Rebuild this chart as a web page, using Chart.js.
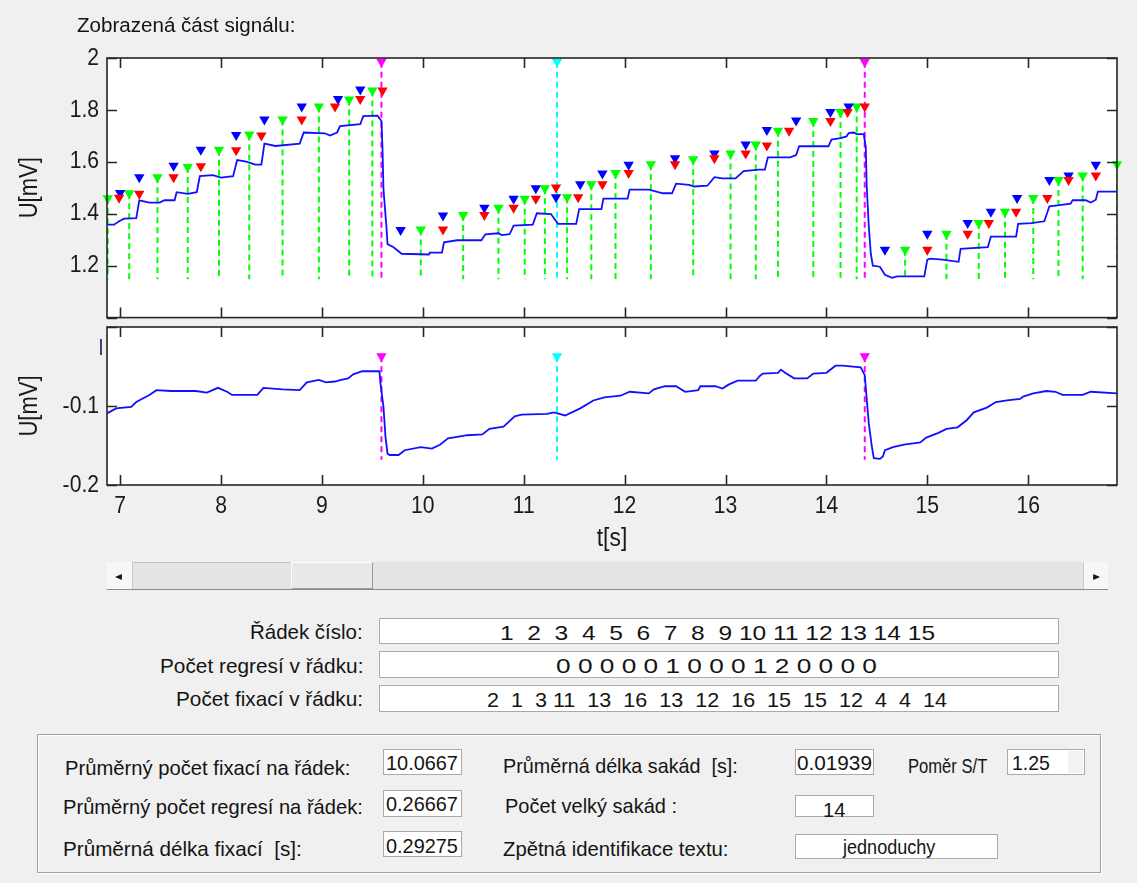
<!DOCTYPE html>
<html>
<head>
<meta charset="utf-8">
<script src="https://cdn.jsdelivr.net/npm/chart.js@4.4.1/dist/chart.umd.min.js"></script>
<style>
body { margin: 0; width: 1137px; height: 883px; background: #f0f0f0; position: relative; overflow: hidden; }
canvas { position: absolute; left: 0; }
#topChart { top: 0; }
#botChart { top: 300px; }
.t { position: absolute; white-space: pre; color: #141414; line-height: 1; transform-origin: left center;
     font-family: "Liberation Sans", Arial, sans-serif; }
.box { position: absolute; background: #fff; border: 1px solid #a9a9a9; box-sizing: border-box; }
.etch { position: absolute; border: 1px solid #a0a0a0; box-shadow: 1px 1px 0 #fff, inset 1px 1px 0 #fff; box-sizing: border-box; }
.sb { position: absolute; box-sizing: border-box; }
</style>
</head>
<body>
<canvas id="botChart" width="1137" height="260"></canvas>
<canvas id="topChart" width="1137" height="340"></canvas>
<div id="ui"></div>
<script>
// time axis
const xMin = 6.87;
const xMax = 16.88;
const xTicks = [7, 8, 9, 10, 11, 12, 13, 14, 15, 16];
const topYTicks = [1, 1.2, 1.4, 1.6, 1.8, 2];
const topYLabels = ['', '1.2', '1.4', '1.6', '1.8', '2'];
const botYTicks = [-0.2, -0.1, 0];
const botYLabels = ['-0.2', '-0.1', ''];

// upper signal (horizontal channel)
const topT = [6.877, 6.94, 6.99, 7.04, 7.16, 7.19, 7.29, 7.39, 7.44, 7.54, 7.56, 7.67, 7.76, 7.79, 7.92, 8.00, 8.12, 8.16, 8.25, 8.34,
  8.40, 8.43, 8.54, 8.78, 8.82, 9.03, 9.08, 9.15, 9.18, 9.38, 9.41, 9.55, 9.59, 9.60, 9.61, 9.64, 9.65, 9.71, 9.79, 10.06,
  10.07, 10.19, 10.21, 10.34, 10.58, 10.62, 10.75, 10.78, 10.86, 10.90, 11.09, 11.13, 11.27, 11.34, 11.52, 11.55, 11.77, 11.79, 12.03, 12.05,
  12.24, 12.38, 12.47, 12.51, 12.64, 12.69, 12.82, 12.89, 12.97, 13.10, 13.18, 13.33, 13.39, 13.42, 13.64, 13.70, 13.73, 14.02, 14.05, 14.14,
  14.20, 14.22, 14.27, 14.30, 14.37, 14.39, 14.40, 14.42, 14.44, 14.46, 14.53, 14.58, 14.65, 14.70, 14.97, 15.00, 15.03, 15.15, 15.31, 15.33,
  15.60, 15.63, 15.88, 15.90, 16.03, 16.16, 16.21, 16.31, 16.42, 16.44, 16.57, 16.62, 16.67, 16.69, 16.88];
const topU = [1.358, 1.358, 1.371, 1.381, 1.383, 1.452, 1.443, 1.443, 1.452, 1.452, 1.483, 1.477, 1.483, 1.545, 1.549, 1.539, 1.545, 1.607, 1.601, 1.589,
  1.589, 1.670, 1.661, 1.670, 1.713, 1.710, 1.701, 1.713, 1.738, 1.745, 1.776, 1.778, 1.757, 1.657, 1.495, 1.346, 1.283, 1.271, 1.246, 1.243,
  1.250, 1.250, 1.290, 1.298, 1.298, 1.321, 1.325, 1.318, 1.321, 1.354, 1.358, 1.402, 1.399, 1.361, 1.361, 1.418, 1.418, 1.458, 1.458, 1.493,
  1.493, 1.479, 1.479, 1.516, 1.511, 1.505, 1.508, 1.541, 1.536, 1.536, 1.564, 1.570, 1.570, 1.617, 1.617, 1.626, 1.660, 1.660, 1.686, 1.691,
  1.698, 1.711, 1.713, 1.707, 1.707, 1.657, 1.501, 1.352, 1.246, 1.200, 1.196, 1.165, 1.153, 1.159, 1.159, 1.223, 1.227, 1.223, 1.215, 1.265,
  1.271, 1.312, 1.312, 1.361, 1.364, 1.371, 1.429, 1.433, 1.439, 1.452, 1.452, 1.443, 1.454, 1.485, 1.485];

// lower signal (vertical channel)
const botT = [6.875, 6.96, 7.11, 7.16, 7.29, 7.36, 7.50, 7.75, 7.86, 7.97, 8.06, 8.11, 8.36, 8.42, 8.61, 8.78, 8.85, 8.97, 9.04, 9.13,
  9.19, 9.26, 9.31, 9.40, 9.57, 9.58, 9.61, 9.63, 9.65, 9.67, 9.76, 9.82, 9.98, 10.09, 10.17, 10.25, 10.34, 10.44, 10.59, 10.66,
  10.80, 10.91, 10.98, 11.23, 11.30, 11.41, 11.56, 11.69, 11.80, 11.96, 12.05, 12.24, 12.29, 12.40, 12.51, 12.60, 12.73, 12.75, 12.90, 12.97,
  13.03, 13.12, 13.30, 13.34, 13.37, 13.52, 13.55, 13.59, 13.68, 13.81, 13.87, 14.00, 14.09, 14.16, 14.34, 14.38, 14.40, 14.42, 14.45, 14.47,
  14.53, 14.56, 14.58, 14.66, 14.77, 14.93, 14.99, 15.11, 15.19, 15.30, 15.39, 15.46, 15.59, 15.68, 15.79, 15.92, 15.95, 16.05, 16.18, 16.27,
  16.34, 16.54, 16.62, 16.88];
const botU = [-0.109, -0.103, -0.101, -0.095, -0.086, -0.080, -0.081, -0.081, -0.083, -0.077, -0.082, -0.086, -0.086, -0.077, -0.079, -0.080, -0.070, -0.067, -0.070, -0.069,
  -0.067, -0.065, -0.060, -0.056, -0.056, -0.071, -0.101, -0.139, -0.160, -0.162, -0.162, -0.156, -0.152, -0.154, -0.149, -0.141, -0.139, -0.137, -0.136, -0.129,
  -0.126, -0.113, -0.111, -0.110, -0.108, -0.112, -0.103, -0.093, -0.089, -0.087, -0.082, -0.084, -0.079, -0.075, -0.075, -0.082, -0.080, -0.075, -0.075, -0.078,
  -0.073, -0.068, -0.068, -0.062, -0.059, -0.058, -0.054, -0.058, -0.065, -0.065, -0.059, -0.058, -0.049, -0.049, -0.051, -0.061, -0.092, -0.122, -0.151, -0.166,
  -0.167, -0.164, -0.156, -0.152, -0.149, -0.146, -0.140, -0.134, -0.129, -0.127, -0.118, -0.108, -0.102, -0.095, -0.093, -0.091, -0.088, -0.084, -0.081, -0.082,
  -0.086, -0.086, -0.082, -0.084];

// fixation markers
const greenT = [6.877, 7.09, 7.37, 7.67, 7.98, 8.28, 8.61, 8.97, 9.27, 9.50, 9.98, 10.40, 10.75, 11.01, 11.21, 11.43, 11.67, 11.91, 12.26, 12.68,
  13.05, 13.30, 13.52, 13.87, 14.14, 14.30, 14.78, 15.19, 15.51, 15.77, 16.05, 16.30, 16.54, 16.88];
const greenU = [1.460, 1.479, 1.541, 1.580, 1.647, 1.705, 1.763, 1.813, 1.840, 1.875, 1.339, 1.395, 1.423, 1.458, 1.498, 1.464, 1.514, 1.557, 1.591, 1.610,
  1.632, 1.667, 1.720, 1.757, 1.792, 1.813, 1.261, 1.323, 1.364, 1.408, 1.461, 1.530, 1.547, 1.591];
const blueT = [7.00, 7.19, 7.53, 7.80, 8.15, 8.43, 8.80, 9.16, 9.38, 9.78, 10.20, 10.61, 10.90, 11.12, 11.32, 11.56, 11.78, 12.04, 12.50, 12.89,
  13.20, 13.41, 13.70, 14.04, 14.22, 14.58, 15.00, 15.40, 15.63, 15.89, 16.21, 16.40, 16.67];
const blueU = [1.480, 1.541, 1.585, 1.647, 1.703, 1.763, 1.813, 1.842, 1.879, 1.337, 1.393, 1.423, 1.458, 1.498, 1.464, 1.514, 1.555, 1.589, 1.614, 1.632,
  1.667, 1.723, 1.759, 1.792, 1.813, 1.261, 1.323, 1.364, 1.408, 1.461, 1.530, 1.547, 1.589];
const redT = [6.99, 7.19, 7.53, 7.80, 8.15, 8.40, 8.80, 9.13, 9.38, 9.60, 10.20, 10.61, 10.90, 11.12, 11.32, 11.54, 11.78, 12.04, 12.50, 12.89,
  13.20, 13.41, 13.63, 14.04, 14.21, 14.38, 15.00, 15.40, 15.61, 15.88, 16.19, 16.40, 16.67];
const redU = [1.462, 1.477, 1.541, 1.583, 1.645, 1.701, 1.763, 1.813, 1.842, 1.875, 1.339, 1.395, 1.423, 1.458, 1.501, 1.464, 1.514, 1.557, 1.591, 1.614,
  1.632, 1.663, 1.720, 1.757, 1.792, 1.813, 1.261, 1.323, 1.364, 1.408, 1.461, 1.530, 1.547];
const stemBase = 1.148;

// line returns (magenta) and cursor (cyan)
const returnT = [9.59, 14.38];
const cursorT = [11.33];
const topMarkU = 1.986;
const botMarkU = -0.037;
const botStemBase = -0.168;

const fontFam = '"Liberation Sans", Arial, sans-serif';
const ink = '#1a1a1a';
const squeeze = 0.88; // the GUI font is narrower than anything installed

const pts = (xs, ys) => xs.map((x, i) => ({ x: x, y: ys[i] }));
const stems = (xs, from, to) => xs.flatMap((x, i) => [
  { x: x, y: Array.isArray(from) ? from[i] : from }, { x: x, y: to }, { x: x, y: null }]);

function markers(data, color) {
  return { data: data, showLine: false, pointStyle: 'triangle', rotation: 180, pointRadius: 6,
    backgroundColor: color, borderColor: color, borderWidth: 0, clip: false };
}
function dashed(data, color) {
  return { data: data, showLine: true, pointRadius: 0, borderColor: color, borderWidth: 2,
    borderDash: [6, 4], spanGaps: false };
}

const matlabAxes = {
  id: 'matlabAxes',
  beforeDraw(chart) {
    const { ctx, chartArea: a } = chart;
    ctx.save();
    ctx.fillStyle = '#fff';
    ctx.fillRect(a.left, a.top, a.right - a.left, a.bottom - a.top);
    ctx.restore();
    // axis labels and titles are drawn before the datasets: squeeze them
    const orig = CanvasRenderingContext2D.prototype.fillText;
    ctx.fillText = function (s, x, y) {
      this.save();
      this.translate(x, y);
      this.scale(squeeze, 1);
      orig.call(this, s, 0, 0);
      this.restore();
    };
  },
  beforeDatasetsDraw(chart) {
    delete chart.ctx.fillText;
  },
  afterDraw(chart) {
    const { ctx, chartArea: a, scales: { x, y } } = chart;
    ctx.save();
    ctx.strokeStyle = '#262626';
    ctx.lineWidth = 1.6;
    ctx.beginPath();
    for (const t of x.ticks) {
      const px = Math.round(x.getPixelForValue(t.value)) + 0.5;
      ctx.moveTo(px, a.top); ctx.lineTo(px, a.top + 10);
      ctx.moveTo(px, a.bottom); ctx.lineTo(px, a.bottom - 10);
    }
    for (const t of y.ticks) {
      const py = Math.round(y.getPixelForValue(t.value)) + 0.5;
      ctx.moveTo(a.left, py); ctx.lineTo(a.left + 10, py);
      ctx.moveTo(a.right, py); ctx.lineTo(a.right - 10, py);
    }
    ctx.stroke();
    ctx.strokeRect(a.left, a.top, a.right - a.left, a.bottom - a.top);
    ctx.restore();
  }
};

function makeOptions(yMin, yMax, yTicks, yLabels, bottom, pad) {
  return {
    responsive: false, animation: false, devicePixelRatio: 1,
    layout: { autoPadding: false, padding: pad },
    plugins: { legend: { display: false }, tooltip: { enabled: false } },
    scales: {
      x: {
        type: 'linear', min: xMin, max: xMax,
        afterBuildTicks: s => { s.ticks = xTicks.map(v => ({ value: v })); },
        afterFit: s => { s.height = bottom ? 75 : 0; },
        grid: { display: false, drawTicks: false }, border: { display: false },
        ticks: { display: bottom, color: ink, padding: 7, maxRotation: 0, autoSkip: false,
          font: { family: fontFam, size: 24 } },
        title: { display: bottom, text: 't[s]', color: ink, padding: { top: 0, bottom: 6 },
          font: { family: fontFam, size: 26 } }
      },
      y: {
        type: 'linear', min: yMin, max: yMax,
        afterBuildTicks: s => { s.ticks = yTicks.map(v => ({ value: v })); },
        afterFit: s => { s.width = 107; },
        grid: { display: false, drawTicks: false }, border: { display: false },
        ticks: { color: ink, padding: 8, autoSkip: false, callback: (v, i) => yLabels[i],
          font: { family: fontFam, size: 24 } },
        title: { display: true, text: 'U[mV]', color: ink, padding: { top: 15, bottom: 0 },
          font: { family: fontFam, size: 25 } }
      }
    }
  };
}

new Chart(document.getElementById('topChart'), {
  type: 'scatter',
  data: {
    datasets: [
      markers(pts(returnT, returnT.map(() => topMarkU)), '#ff00ff'),
      markers(pts(cursorT, [topMarkU]), '#00ffff'),
      markers(pts(redT, redU), '#ff0000'),
      markers(pts(blueT, blueU), '#0000ff'),
      markers(pts(greenT, greenU), '#00ff00'),
      { data: pts(topT, topU), showLine: true, pointRadius: 0, borderColor: '#1010ff', borderWidth: 1.8 },
      dashed(stems(returnT, topMarkU, stemBase), '#ff00ff'),
      dashed(stems(cursorT, topMarkU, stemBase), '#00ffff'),
      dashed(stems(greenT, greenU, stemBase), '#00ff00')
    ]
  },
  options: makeOptions(1, 2, topYTicks, topYLabels, false, { left: 0, right: 20, top: 58, bottom: 14.5 }),
  plugins: [matlabAxes]
});

new Chart(document.getElementById('botChart'), {
  type: 'scatter',
  data: {
    datasets: [
      markers(pts(returnT, returnT.map(() => botMarkU)), '#ff00ff'),
      markers(pts(cursorT, [botMarkU]), '#00ffff'),
      { data: pts(botT, botU), showLine: true, pointRadius: 0, borderColor: '#1010ff', borderWidth: 1.8 },
      dashed(stems(returnT, botMarkU, botStemBase), '#ff00ff'),
      dashed(stems(cursorT, botMarkU, botStemBase), '#00ffff')
    ]
  },
  options: makeOptions(-0.2, 0, botYTicks, botYLabels, true, { left: 0, right: 20, top: 27, bottom: 0 }),
  plugins: [matlabAxes]
});

// GUI controls around the plots
const ui = document.getElementById('ui');
function el(cls, x, y, w, h, css) {
  const d = document.createElement('div');
  d.className = cls;
  Object.assign(d.style, { left: x + 'px', top: y + 'px', width: w + 'px', height: h + 'px' }, css || {});
  ui.appendChild(d);
  return d;
}
function text(str, x, cy, w, size) {
  const s = document.createElement('span');
  s.className = 't';
  s.textContent = str;
  s.style.fontSize = size + 'px';
  s.style.left = x + 'px';
  s.style.top = (cy - size / 2) + 'px';
  ui.appendChild(s);
  s.style.transform = 'scaleX(' + (w / s.offsetWidth) + ')';
}

// scrollbar
el('sb', 107, 562, 1001, 28, { background: '#e4e4e4', borderBottom: '1px solid #8c8c8c' });
el('sb', 107, 562, 26, 27, { background: '#f7f7f7', borderRight: '1px solid #c8c8c8' });
el('sb', 133, 562, 158, 27, { borderTop: '1px solid #c4c4c4' });
el('sb', 291, 562, 82, 27, { background: '#e8e8e8', borderTop: '1px solid #fff', borderLeft: '1px solid #fff',
  borderRight: '1px solid #9a9a9a', borderBottom: '1px solid #9a9a9a' });
el('sb', 1083, 562, 25, 27, { background: '#f7f7f7', borderLeft: '1px solid #c8c8c8' });
text('◂', 115, 576, 7, 12);
text('▸', 1093, 576, 7, 12);

// row boxes
el('box', 379, 618, 680, 26);
el('box', 379, 651, 680, 27);
el('box', 379, 685, 680, 27);
text('Řádek číslo:', 250, 631, 113, 21);
text('Počet regresí v řádku:', 160, 665, 203, 21);
text('Počet fixací v řádku:', 176, 698, 187, 21);
text('1  2  3  4  5  6  7  8  9 10 11 12 13 14 15', 500, 632, 435, 21);
text('0 0 0 0 0 1 0 0 0 1 2 0 0 0 0', 556, 665, 321, 21);
text('2  1  3 11  13  16  13  12  16  15  15  12  4  4  14', 487, 699, 460, 21);

// summary panel
el('etch', 37, 734, 1064, 139);
el('box', 383, 749, 79, 26);
el('box', 383, 790, 79, 27);
el('box', 383, 831, 79, 26);
el('box', 795, 749, 79, 26);
el('box', 795, 795, 79, 22);
el('box', 795, 834, 203, 25);
el('box', 1007, 749, 78, 26);
el('sb', 1068, 751, 15, 22, { background: '#f2f2f2' });
text('Průměrný počet fixací na řádek:', 65, 767, 285, 21);
text('Průměrný počet regresí na řádek:', 63, 806, 300, 21);
text('Průměrná délka fixací  [s]:', 63, 848, 239, 21);
text('Průměrná délka sakád  [s]:', 503, 765, 235, 21);
text('Poměr S/T', 908, 765, 79, 21);
text('Počet velký sakád :', 505, 805, 172, 21);
text('Zpětná identifikace textu:', 503, 848, 225, 21);
text('10.0667', 386, 762, 72, 21);
text('0.26667', 386, 803, 72, 21);
text('0.29275', 386, 845, 72, 21);
text('0.01939', 797, 762, 75, 21);
text('1.25', 1012, 762, 38, 21);
text('14', 823, 809, 22, 21);
text('jednoduchy', 843, 846, 92, 21);
text('Zobrazená část signálu:', 77, 25, 218, 20);

// stray mark left of the lower axes
el('sb', 100, 339, 2, 16, { background: '#4a3f78' });
</script>
</body>
</html>
